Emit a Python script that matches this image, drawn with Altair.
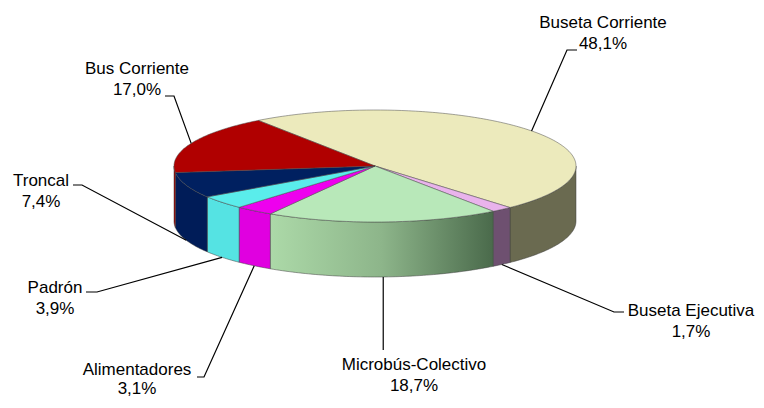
import math
import altair as alt
import pandas as pd

# ---- data -------------------------------------------------------------
categories = ["Buseta Corriente", "Buseta Ejecutiva", "Microbús-Colectivo",
              "Alimentadores", "Padrón", "Troncal", "Bus Corriente"]
shares = [48.1, 1.7, 18.7, 3.1, 3.9, 7.4, 17.0]

top_colors = ["#ECEABC", "#E9B3EC", "#B8E8B9", "#EE00EE", "#5AEDEB", "#002060", "#B00000"]
side_colors = ["#6A6A50", "#6E5070", "#8FBF8E", "#E000E0", "#55E3E3", "#001C58", "#A00000"]

# ---- layout (page pixels) --------------------------------------------
CX, CY, RX, RY, DEPTH = 375.0, 166.0, 201.0, 56.0, 55.0
START_DEG = -35.5
label_anchor = {  # centre x, baseline of first line, line spacing
    "Buseta Corriente": (603, 28, 21),
    "Buseta Ejecutiva": (691, 316, 21),
    "Microbús-Colectivo": (414, 370, 21),
    "Alimentadores": (137, 375, 19),
    "Padrón": (55, 293, 21),
    "Troncal": (41, 186, 21),
    "Bus Corriente": (137, 74, 21),
}
leader_elbow = {  # elbow point, end point (None -> vertical drop)
    "Buseta Corriente": ((567, 50), (577, 50)),
    "Buseta Ejecutiva": ((614, 312), (624, 312)),
    "Microbús-Colectivo": (None, 350),
    "Alimentadores": ((204, 377), (197, 377)),
    "Padrón": ((97, 292), (86, 292)),
    "Troncal": ((82, 185), (73, 185)),
    "Bus Corriente": ((174, 96), (165, 96)),
}


def pt(deg, drop=0.0):
    a = math.radians(deg)
    return CX + RX * math.sin(a), CY - RY * math.cos(a) + drop


total = sum(shares)
top_rows, wall_rows, line_rows, text_rows = [], [], [], []
a = START_DEG
for cat, v, tc, sc in zip(categories, shares, top_colors, side_colors):
    span = v / total * 360.0
    a1, a2 = a, a + span
    n = max(2, int(span))
    # top face
    i = 0
    top_rows.append(dict(key=cat, i=i, x=CX, y=CY, color=tc))
    for k in range(n + 1):
        i += 1
        x, y = pt(a1 + span * k / n)
        top_rows.append(dict(key=cat, i=i, x=x, y=y, color=tc))
    # front wall (visible between 90 and 270 degrees)
    w1, w2 = max(a1, 90.0), min(a2, 270.0)
    if w2 > w1:
        m = max(2, int(w2 - w1))
        j = 0
        for k in range(m + 1):
            x, y = pt(w1 + (w2 - w1) * k / m)
            wall_rows.append(dict(key=cat, i=j, x=x, y=y, color=sc))
            j += 1
        for k in range(m, -1, -1):
            x, y = pt(w1 + (w2 - w1) * k / m, DEPTH)
            wall_rows.append(dict(key=cat, i=j, x=x, y=y, color=sc))
            j += 1
    # leader line
    mid = (a1 + a2) / 2.0
    mid_n = mid % 360
    sx, sy = pt(mid, DEPTH if 90 < mid_n < 270 else 0.0)
    elbow, end = leader_elbow[cat]
    pts = [(sx, sy)]
    if elbow is None:
        pts.append((sx, end))
    else:
        pts += [elbow, end]
    for k, (px, py) in enumerate(pts):
        line_rows.append(dict(key=cat, i=k, x=px, y=py))
    # labels
    lx, ly, lh = label_anchor[cat]
    pct = f"{v:.1f}".replace(".", ",") + "%"
    text_rows.append(dict(x=lx, y=ly, t=cat))
    text_rows.append(dict(x=lx, y=ly + lh, t=pct))
    a = a2

df_top = pd.DataFrame(top_rows)
df_wall = pd.DataFrame(wall_rows)
df_line = pd.DataFrame(line_rows)
df_text = pd.DataFrame(text_rows)

W, H = 748, 392
xs = alt.Scale(domain=[8, 8 + W], nice=False, zero=False)
ys = alt.Scale(domain=[8, 8 + H], nice=False, zero=False, reverse=True)
X = alt.X("x:Q", scale=xs, axis=None)
Y = alt.Y("y:Q", scale=ys, axis=None)

walls = alt.Chart(df_wall).transform_filter(
    alt.datum.key != "Microbús-Colectivo"
).mark_line(interpolate="linear-closed", stroke="#3c3c3c", strokeWidth=0.5).encode(
    x=X, y=Y, fill=alt.Fill("color:N", scale=None), detail="key:N", order="i:Q"
)

green_wall = alt.Chart(df_wall).transform_filter(
    alt.datum.key == "Microbús-Colectivo"
).mark_line(
    interpolate="linear-closed", stroke="#3c3c3c", strokeWidth=0.5,
    fill=alt.LinearGradient(
        gradient="linear",
        stops=[alt.GradientStop(color="#ACD9A8", offset=0),
               alt.GradientStop(color="#8DB58A", offset=0.5),
               alt.GradientStop(color="#4A6A4B", offset=1)],
        x1=0, x2=1, y1=0, y2=0),
).encode(x=X, y=Y, detail="key:N", order="i:Q")

tops = alt.Chart(df_top).mark_line(
    interpolate="linear-closed", stroke="#4a4a4a", strokeWidth=0.5
).encode(x=X, y=Y, fill=alt.Fill("color:N", scale=None), detail="key:N", order="i:Q")

leaders = alt.Chart(df_line).mark_line(color="black", strokeWidth=1.2).encode(
    x=X, y=Y, detail="key:N", order="i:Q"
)

labels = alt.Chart(df_text).mark_text(
    font="Liberation Sans", fontSize=17, align="center", baseline="alphabetic", color="black"
).encode(x=X, y=Y, text="t:N")

chart = alt.layer(walls, green_wall, tops, leaders, labels).properties(
    width=W, height=H, padding=0, autosize=alt.AutoSizeParams(type="none"),
    background="white"
).configure_view(stroke=None)

chart.save("out.html", embed_options={"renderer": "svg", "actions": False})
